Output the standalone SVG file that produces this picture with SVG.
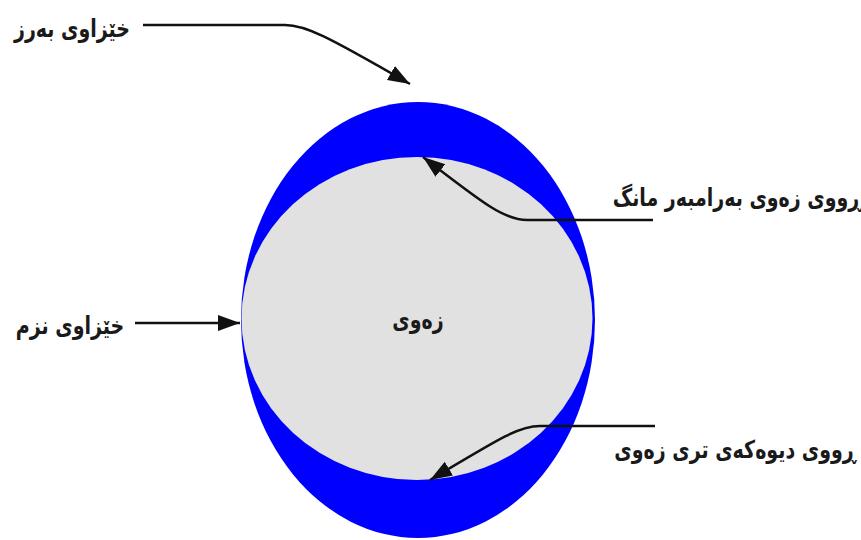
<svg xmlns="http://www.w3.org/2000/svg" width="861" height="540" viewBox="0 0 861 540">
<defs>
<style>
.lbl{font-family:"DejaVu Sans","Noto Sans",sans-serif;font-weight:bold;font-size:19px;fill:#1a1a1a;text-anchor:middle}
.con{fill:none;stroke:#111;stroke-width:2.5}
</style>
<marker id="ah" markerUnits="userSpaceOnUse" markerWidth="24" markerHeight="18" refX="22" refY="8" orient="auto">
<path d="M0,0 L22,8 L0,16 Z" fill="#111"/>
</marker>
</defs>
<rect width="861" height="540" fill="#fff"/>
<g id="ocean">
<ellipse cx="418" cy="320" rx="177" ry="218" fill="#0000ff"/>
</g>
<g id="earth">
<ellipse cx="417" cy="318.5" rx="175.5" ry="161.5" fill="#e1e1e1"/>
<text class="lbl" transform="translate(418,328) scale(1,1.3)" direction="rtl">زەوی</text>
</g>
<g id="high-tide">
<text class="lbl" transform="translate(72,37) scale(1,1.3)" direction="rtl">خێزاوی بەرز</text>
</g>
<g id="low-tide">
<text class="lbl" transform="translate(70,334) scale(1,1.3)" direction="rtl">خێزاوی نزم</text>
</g>
<g id="facing-moon">
<text class="lbl" transform="translate(737,206) scale(1,1.3)" direction="rtl">ڕووی زەوی بەرامبەر مانگ</text>
</g>
<g id="far-side">
<text class="lbl" transform="translate(735,458) scale(1,1.3)" direction="rtl">ڕووی دیوەکەی تری زەوی</text>
</g>
<g id="connectors">
<path class="con" d="M143,25 H285 C305,25 325,35 410,84" marker-end="url(#ah)"/>
<path class="con" d="M135,323 H240" marker-end="url(#ah)"/>
<path class="con" d="M653,220 H527 C505,220 485,205 423,157" marker-end="url(#ah)"/>
<path class="con" d="M655,426 H540 C520,426 505,435 430,480" marker-end="url(#ah)"/>
</g>
</svg>
